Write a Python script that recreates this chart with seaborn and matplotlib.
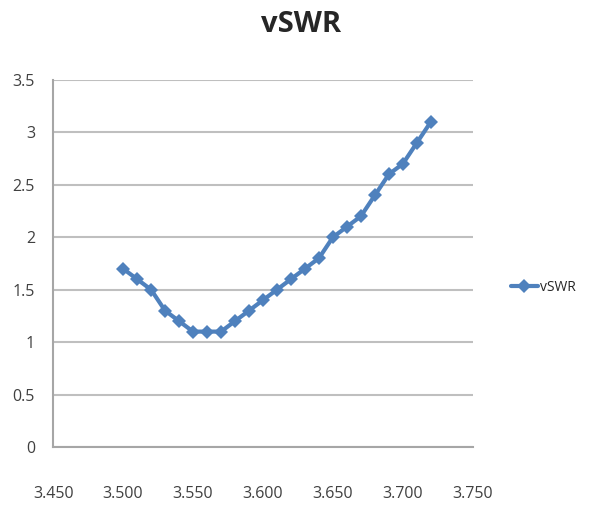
import numpy as np
import pandas as pd
import matplotlib
matplotlib.use("Agg")
import matplotlib.pyplot as plt
import seaborn as sns

# frequency (GHz) and measured vSWR
freq = [3.50, 3.51, 3.52, 3.53, 3.54, 3.55, 3.56, 3.57, 3.58, 3.59, 3.60, 3.61,
        3.62, 3.63, 3.64, 3.65, 3.66, 3.67, 3.68, 3.69, 3.70, 3.71, 3.72]
vswr = [1.7, 1.6, 1.5, 1.3, 1.2, 1.1, 1.1, 1.1, 1.2, 1.3, 1.4, 1.5,
        1.6, 1.7, 1.8, 2.0, 2.1, 2.2, 2.4, 2.6, 2.7, 2.9, 3.1]
x_ticks = [3.45, 3.50, 3.55, 3.60, 3.65, 3.70, 3.75]
y_ticks = [0, 0.5, 1, 1.5, 2, 2.5, 3, 3.5]
y_labels = ["0", "0.5", "1", "1.5", "2", "2.5", "3", "3.5"]

data = pd.DataFrame({"freq": freq, "vSWR": vswr})

sns.set_style("white")
plt.rcParams['font.family'] = ['Open Sans', 'DejaVu Sans']

fig = plt.figure(figsize=(5.97, 5.12), dpi=100)
ax = fig.add_axes([0.089, 0.127, 0.703, 0.717])

sns.lineplot(data=data, x="freq", y="vSWR", ax=ax, color="#4F81BD",
             marker="D", markersize=7, markeredgewidth=0, linewidth=3,
             label="vSWR")

ax.set_xlim(3.45, 3.75)
ax.set_ylim(0, 3.5)
ax.set_xticks(x_ticks)
ax.set_xticklabels([f"{t:.3f}" for t in x_ticks])
ax.set_yticks(y_ticks)
ax.set_yticklabels(y_labels)
ax.yaxis.grid(True, color="#bfbfbf", linewidth=1.5)
ax.set_xlabel("")
ax.set_ylabel("")

for side in ["top", "right"]:
    ax.spines[side].set_visible(False)
for side in ["left", "bottom"]:
    ax.spines[side].set_color("#a6a6a6")
    ax.spines[side].set_linewidth(1.5)

ax.tick_params(axis="both", colors="#a6a6a6", length=5, width=1, labelsize=11.5,
               labelcolor="#404040")
ax.tick_params(axis="x", pad=23)
ax.tick_params(axis="y", pad=8)

fig.suptitle("vSWR", x=0.505, y=0.953, va="center", fontsize=21, fontweight="bold")

leg = ax.legend(loc="center left", bbox_to_anchor=(1.06, 0.435), frameon=False,
                fontsize=10, handlelength=2.0, handletextpad=0.1)

fig.savefig("out.png", dpi=100)
